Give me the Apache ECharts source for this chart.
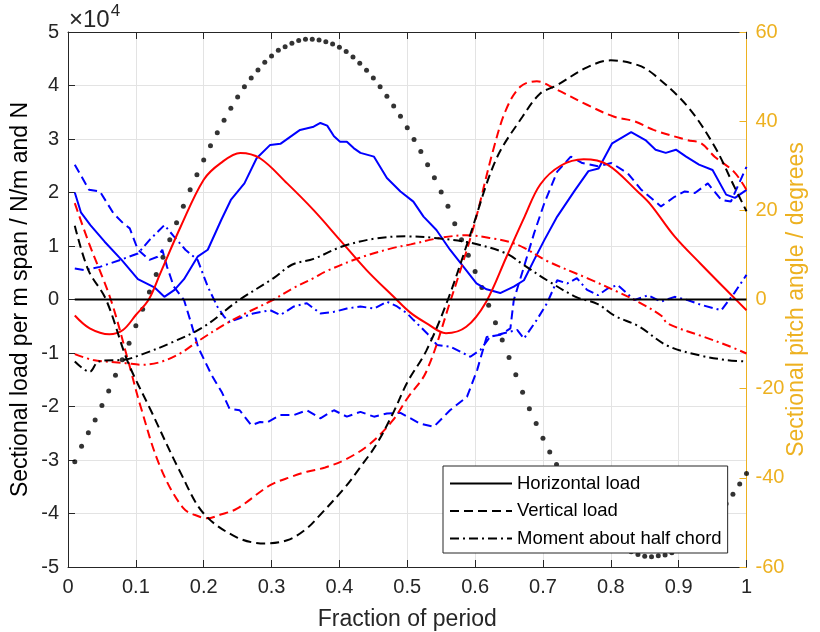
<!DOCTYPE html>
<html>
<head>
<meta charset="utf-8">
<script src="https://cdn.jsdelivr.net/npm/echarts@6/dist/echarts.min.js"></script>
<style>
html,body{margin:0;padding:0;background:#fff;overflow:hidden;}
#chart{width:820px;height:632px;}
</style>
</head>
<body>
<div id="chart"></div>
<script>
// ---- Data (loads in units of 1e4 N/m, pitch angle in degrees) ----
const xTicks = [0,0.1,0.2,0.3,0.4,0.5,0.6,0.7,0.8,0.9,1];
const loadTicks = [-5,-4,-3,-2,-1,0,1,2,3,4,5];
const pitchTicks = [-60,-40,-20,0,20,40,60];

// Black (reference case)
const horizontalLoad = [[0.01,0],[1.0,0]];
const verticalLoad = [[0.01,1.38],[0.03,0.55],[0.056,0.0],[0.088,-1.16],[0.122,-2.07],[0.166,-3.24],[0.20,-4.0],[0.248,-4.44],[0.29,-4.56],[0.323,-4.5],[0.35,-4.3],[0.372,-4.02],[0.409,-3.5],[0.431,-3.13],[0.455,-2.7],[0.48,-2.1],[0.50,-1.55],[0.528,-0.96],[0.56,0.0],[0.592,1.18],[0.631,2.62],[0.67,3.42],[0.696,3.85],[0.72,4.0],[0.765,4.34],[0.80,4.47],[0.84,4.38],[0.864,4.2],[0.913,3.61],[0.953,2.86],[0.982,2.11],[1.0,1.65]];
const momentHalfChord = [[0.01,-1.16],[0.032,-1.35],[0.045,-1.16],[0.085,-1.12],[0.11,-1.02],[0.15,-0.82],[0.20,-0.51],[0.25,-0.03],[0.303,0.40],[0.33,0.65],[0.362,0.76],[0.404,0.99],[0.453,1.14],[0.50,1.18],[0.548,1.14],[0.597,1.05],[0.646,0.86],[0.67,0.66],[0.706,0.36],[0.75,0.04],[0.78,-0.08],[0.805,-0.3],[0.841,-0.5],[0.883,-0.86],[0.933,-1.05],[0.97,-1.13],[1.0,-1.16]];

// Red case
const redHorizontal = [[0.01,-0.3],[0.032,-0.54],[0.061,-0.65],[0.081,-0.57],[0.10,-0.29],[0.119,0.0],[0.136,0.49],[0.166,1.36],[0.20,2.24],[0.225,2.55],[0.254,2.74],[0.283,2.64],[0.323,2.17],[0.362,1.67],[0.401,1.11],[0.44,0.55],[0.48,0.05],[0.505,-0.25],[0.528,-0.44],[0.557,-0.63],[0.587,-0.51],[0.616,-0.05],[0.646,0.79],[0.673,1.55],[0.696,2.15],[0.726,2.5],[0.76,2.62],[0.795,2.52],[0.841,2.0],[0.859,1.77],[0.894,1.18],[0.933,0.66],[0.978,0.08],[1.0,-0.2]];
const redVertical = [[0.01,1.80],[0.031,1.05],[0.063,0.0],[0.089,-1.16],[0.107,-2.0],[0.136,-3.13],[0.170,-3.9],[0.194,-4.06],[0.205,-4.09],[0.225,-4.02],[0.249,-3.91],[0.298,-3.47],[0.33,-3.31],[0.352,-3.22],[0.379,-3.14],[0.409,-2.99],[0.443,-2.72],[0.478,-2.27],[0.50,-1.85],[0.528,-1.35],[0.563,-0.05],[0.597,1.32],[0.627,2.81],[0.646,3.56],[0.667,3.98],[0.691,4.08],[0.716,3.95],[0.765,3.64],[0.804,3.42],[0.835,3.33],[0.863,3.17],[0.913,2.98],[0.933,2.92],[0.953,2.67],[0.982,2.38],[1.0,2.05]];
const redMoment = [[0.01,-1.02],[0.037,-1.13],[0.085,-1.19],[0.11,-1.22],[0.136,-1.17],[0.165,-1.01],[0.194,-0.76],[0.233,-0.45],[0.263,-0.25],[0.303,0.0],[0.33,0.2],[0.362,0.40],[0.379,0.52],[0.43,0.78],[0.478,0.96],[0.505,1.03],[0.548,1.15],[0.587,1.20],[0.627,1.14],[0.652,1.07],[0.673,0.96],[0.706,0.72],[0.765,0.40],[0.814,0.12],[0.841,-0.05],[0.874,-0.3],[0.884,-0.45],[0.933,-0.68],[0.97,-0.85],[1.0,-1.01]];

// Blue case
const blueHorizontal = [[0.01,2.0],[0.019,1.63],[0.033,1.39],[0.054,1.08],[0.079,0.74],[0.103,0.38],[0.128,0.22],[0.142,0.05],[0.157,0.18],[0.171,0.38],[0.191,0.80],[0.206,0.93],[0.226,1.49],[0.24,1.86],[0.26,2.17],[0.278,2.64],[0.298,2.89],[0.313,2.91],[0.342,3.17],[0.362,3.23],[0.372,3.30],[0.382,3.25],[0.392,3.05],[0.401,2.95],[0.411,2.95],[0.421,2.83],[0.431,2.74],[0.451,2.67],[0.47,2.27],[0.49,2.02],[0.509,1.83],[0.524,1.55],[0.543,1.30],[0.563,0.93],[0.583,0.61],[0.602,0.30],[0.617,0.19],[0.637,0.12],[0.657,0.24],[0.672,0.36],[0.687,0.74],[0.702,1.11],[0.721,1.55],[0.747,2.04],[0.767,2.4],[0.782,2.45],[0.802,2.92],[0.83,3.13],[0.851,2.98],[0.866,2.80],[0.881,2.74],[0.896,2.80],[0.911,2.67],[0.93,2.52],[0.95,2.42],[0.97,1.96],[0.983,1.90],[1.0,2.05]];
const blueVertical = [[0.01,2.52],[0.031,2.05],[0.047,2.02],[0.067,1.61],[0.081,1.43],[0.091,1.33],[0.103,0.93],[0.12,0.74],[0.132,0.80],[0.139,0.93],[0.146,0.61],[0.156,0.24],[0.171,-0.01],[0.18,-0.38],[0.192,-0.90],[0.212,-1.42],[0.227,-1.74],[0.238,-2.04],[0.253,-2.07],[0.27,-2.35],[0.283,-2.29],[0.293,-2.3],[0.313,-2.16],[0.333,-2.16],[0.352,-2.07],[0.372,-2.22],[0.392,-2.07],[0.411,-2.19],[0.431,-2.10],[0.451,-2.19],[0.47,-2.13],[0.49,-2.12],[0.519,-2.32],[0.539,-2.38],[0.563,-2.07],[0.588,-1.82],[0.603,-1.32],[0.617,-0.70],[0.637,-0.66],[0.652,-0.54],[0.657,-0.01],[0.672,0.61],[0.687,1.24],[0.702,1.80],[0.721,2.39],[0.741,2.67],[0.758,2.55],[0.781,2.49],[0.801,2.55],[0.825,2.36],[0.845,2.05],[0.874,1.74],[0.894,1.92],[0.909,2.02],[0.924,1.99],[0.943,2.17],[0.963,1.86],[0.977,1.83],[1.0,2.48]];
const blueMoment = [[0.01,0.58],[0.024,0.55],[0.047,0.61],[0.077,0.74],[0.103,0.86],[0.12,1.11],[0.142,1.39],[0.156,1.18],[0.173,0.93],[0.191,0.74],[0.206,0.24],[0.22,-0.13],[0.23,-0.32],[0.238,-0.42],[0.253,-0.35],[0.273,-0.26],[0.298,-0.20],[0.313,-0.29],[0.333,-0.13],[0.352,-0.07],[0.372,-0.26],[0.392,-0.23],[0.411,-0.17],[0.431,-0.13],[0.451,-0.17],[0.47,-0.04],[0.485,-0.13],[0.5,-0.26],[0.509,-0.38],[0.529,-0.63],[0.544,-0.85],[0.563,-0.88],[0.593,-1.07],[0.608,-0.94],[0.622,-0.70],[0.642,-0.63],[0.662,-0.57],[0.672,-0.73],[0.691,-0.38],[0.706,-0.07],[0.721,0.36],[0.736,0.30],[0.75,0.40],[0.765,0.18],[0.781,0.08],[0.796,0.21],[0.81,0.27],[0.835,-0.01],[0.855,0.08],[0.874,-0.04],[0.894,0.05],[0.913,-0.01],[0.933,-0.10],[0.963,-0.20],[0.982,0.12],[1.0,0.46]];

// Pitch angle (degrees), sampled at fractions 0.01 ... 1.00
const pitchAngle = [-36.4,-32.9,-29.9,-27.0,-23.8,-20.5,-17.0,-13.5,-9.8,-5.9,-2.2,1.7,5.6,9.5,13.4,17.2,20.9,24.6,28.0,31.3,34.5,37.4,40.2,42.9,45.4,47.7,49.7,51.5,53.2,54.6,55.9,56.7,57.5,58.1,58.4,58.4,58.2,57.8,57.3,56.6,55.6,54.4,53.0,51.4,49.7,47.7,45.6,43.4,41.1,38.5,35.9,33.2,30.2,27.3,24.1,20.9,17.0,13.4,9.9,6.3,2.7,-1.3,-5.2,-9.1,-13.0,-16.9,-20.8,-24.5,-27.8,-31.1,-34.2,-37.0,-39.7,-42.2,-44.5,-46.6,-48.5,-50.3,-51.9,-53.3,-54.5,-55.6,-56.6,-57.2,-57.6,-57.7,-57.5,-57.3,-56.8,-56.0,-55.0,-53.8,-52.4,-50.9,-49.3,-47.6,-45.8,-43.7,-41.4,-39.0];
const pitchFractions = pitchAngle.map((_, i) => (i + 1) / 100);

// ---- Chart ----
const FONT = '"Liberation Sans", Arial, Helvetica, sans-serif';
const TXT = '#262626';
const ORANGE = '#EDB120';
const DASH = [9, 5];
const DASHDOT = [9, 4, 2, 4];

function lineSeries(name, data, color, type, smooth) {
  return {
    name: name, type: 'line', data: data, symbol: 'none', smooth: smooth ? 0.35 : false,
    xAxisIndex: 0, yAxisIndex: 0,
    lineStyle: { color: color, width: 2, type: type },
    itemStyle: { color: color },
    emphasis: { disabled: true }, animation: false
  };
}

const chart = echarts.init(document.getElementById('chart'), null, { renderer: 'canvas' });
const option = {
  animation: false,
  textStyle: { fontFamily: FONT },
  grid: { left: 68, right: 73.5, top: 32, bottom: 65, containLabel: false, outerBoundsMode: 'none' },
  legend: {
    data: ['Horizontal load', 'Vertical load', 'Moment about half chord'],
    orient: 'vertical', left: 443, top: 466,
    itemWidth: 62, itemHeight: 18, itemGap: 8.5,
    padding: [8, 6, 5, 6],
    backgroundColor: '#ffffff', borderColor: '#262626', borderWidth: 1,
    itemStyle: { opacity: 0 },
    textStyle: { fontSize: 18.5, color: '#000', fontFamily: FONT },
    selectedMode: false, z: 10
  },
  xAxis: [{
    type: 'value', min: 0, max: 1, interval: 0.1,
    name: 'Fraction of period', nameLocation: 'middle', nameGap: 41,
    nameTextStyle: { fontSize: 23, color: TXT, fontFamily: FONT },
    axisLine: { show: true, onZero: false, lineStyle: { color: TXT, width: 1 } },
    axisTick: { show: true, inside: true, length: 7, lineStyle: { color: TXT } },
    axisLabel: { fontSize: 20, color: TXT, margin: 10, formatter: v => String(+v.toFixed(1)) },
    splitLine: { show: true, lineStyle: { color: '#e3e3e3', width: 1 } }
  }, {
    type: 'value', min: 0, max: 1, interval: 0.1, position: 'top',
    axisLine: { show: true, onZero: false, lineStyle: { color: TXT, width: 1 } },
    axisTick: { show: true, inside: true, length: 7, lineStyle: { color: TXT } },
    axisLabel: { show: false }, splitLine: { show: false }
  }],
  yAxis: [{
    type: 'value', min: -5, max: 5, interval: 1, position: 'left',
    name: 'Sectional load per m span / N/m and N', nameLocation: 'middle', nameGap: 36,
    nameMoveOverlap: false,
    nameTextStyle: { fontSize: 23, color: '#000', fontFamily: FONT },
    axisLine: { show: true, onZero: false, lineStyle: { color: TXT, width: 1 } },
    axisTick: { show: true, inside: true, length: 7, lineStyle: { color: TXT } },
    axisLabel: { fontSize: 20, color: TXT, margin: 9 },
    splitLine: { show: true, lineStyle: { color: '#e3e3e3', width: 1 } }
  }, {
    type: 'value', min: -60, max: 60, interval: 20, position: 'right',
    name: 'Sectional pitch angle / degrees', nameLocation: 'middle', nameGap: 39, nameRotate: 90,
    nameMoveOverlap: false,
    nameTextStyle: { fontSize: 23, color: ORANGE, fontFamily: FONT },
    axisLine: { show: true, onZero: false, lineStyle: { color: ORANGE, width: 1 } },
    axisTick: { show: true, inside: true, length: 7, lineStyle: { color: ORANGE } },
    axisLabel: { fontSize: 20, color: ORANGE, margin: 9 },
    splitLine: { show: false }
  }],
  graphic: [{
    type: 'text', left: 69, top: 3, z: 20,
    style: {
      text: '{a|×10}{b|4}', fontFamily: FONT,
      rich: { a: { fontSize: 24, fill: TXT, fontFamily: FONT, verticalAlign: 'bottom', lineHeight: 29 },
              b: { fontSize: 17, fill: TXT, fontFamily: FONT, verticalAlign: 'top', padding: [0,0,12,1] } }
    }
  }],
  series: [
    lineSeries('Blue horizontal load', blueHorizontal, '#0000FF', 'solid', false),
    lineSeries('Blue vertical load', blueVertical, '#0000FF', DASH, false),
    lineSeries('Blue moment', blueMoment, '#0000FF', DASHDOT, false),
    lineSeries('Red horizontal load', redHorizontal, '#FF0000', 'solid', true),
    lineSeries('Red vertical load', redVertical, '#FF0000', DASH, true),
    lineSeries('Red moment', redMoment, '#FF0000', DASHDOT, true),
    lineSeries('Vertical load', verticalLoad, '#000000', DASH, true),
    lineSeries('Moment about half chord', momentHalfChord, '#000000', DASHDOT, true),
    lineSeries('Horizontal load', horizontalLoad, '#000000', 'solid', false),
    {
      name: 'Pitch angle', type: 'scatter', xAxisIndex: 0, yAxisIndex: 1,
      data: pitchFractions.map((f, i) => [f, pitchAngle[i]]),
      symbol: 'circle', symbolSize: 5, itemStyle: { color: '#000' },
      emphasis: { disabled: true }, animation: false
    }
  ]
};
chart.setOption(option);
</script>
</body>
</html>
